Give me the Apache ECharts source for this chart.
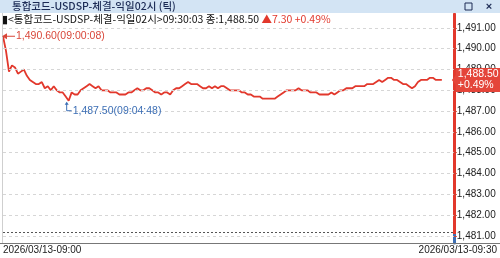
<!DOCTYPE html>
<html><head><meta charset="utf-8">
<script src="https://cdn.jsdelivr.net/npm/echarts@6/dist/echarts.min.js"></script>
<style>html,body{margin:0;padding:0;background:#fff}#c{width:500px;height:258px}</style>
</head><body><div id="c"></div>
<script>
const titleText = '통합코드-USDSP-체결-익일02시 (틱)';
const infoText = '▮<통합코드-USDSP-체결-익일02시>09:30:03 종:1,488.50 ';
const changeText = '▲7.30 +0.49%';
const lastPrice = 1488.5;
const changePct = '+0.49%';
const prevClose = 1481.2;
const highPoint = {index: 0, value: 1490.6, label: '1,490.60(09:00:08)'};
const lowPoint = {index: 22, value: 1487.5, label: '1,487.50(09:04:48)'};
const yTicks = [1481, 1482, 1483, 1484, 1485, 1486, 1487, 1488, 1489, 1490, 1491];
const xTickLabels = ['2026/03/13-09:00', '2026/03/13-09:30'];
const prices = [
1490.6, 1489.9, 1488.9, 1489.2, 1489.1, 1488.8, 1488.9, 1489.0, 1488.7, 1488.5,
1488.4, 1488.3, 1488.3, 1488.4, 1488.1, 1488.2, 1488.0, 1488.2, 1488.0, 1487.9,
1487.9, 1487.7, 1487.5, 1487.9, 1487.8, 1487.8, 1488.0, 1488.1, 1488.2, 1488.3,
1488.2, 1488.1, 1488.2, 1488.0, 1488.0, 1488.0, 1487.9, 1487.9, 1487.9, 1487.8,
1487.8, 1487.8, 1487.9, 1487.9, 1488.0, 1488.1, 1488.0, 1488.0, 1488.1, 1488.1,
1488.0, 1487.9, 1487.9, 1487.8, 1487.9, 1487.9, 1487.8, 1488.0, 1488.1, 1488.1,
1488.2, 1488.3, 1488.4, 1488.3, 1488.3, 1488.3, 1488.2, 1488.1, 1488.1, 1488.2,
1488.1, 1488.2, 1488.1, 1488.2, 1488.2, 1488.1, 1488.0, 1488.0, 1488.0, 1488.0,
1487.9, 1487.9, 1487.8, 1487.8, 1487.7, 1487.7, 1487.7, 1487.6, 1487.6, 1487.6,
1487.6, 1487.6, 1487.7, 1487.8, 1487.9, 1488.0, 1488.0, 1488.0, 1488.0, 1488.1,
1488.0, 1488.0, 1488.0, 1487.9, 1487.9, 1487.9, 1487.8, 1487.8, 1487.8, 1487.8,
1487.9, 1487.8, 1487.9, 1488.0, 1488.0, 1488.1, 1488.1, 1488.1, 1488.2, 1488.2,
1488.2, 1488.2, 1488.3, 1488.3, 1488.3, 1488.4, 1488.5, 1488.4, 1488.5, 1488.6,
1488.6, 1488.5, 1488.5, 1488.4, 1488.3, 1488.3, 1488.2, 1488.1, 1488.2, 1488.4,
1488.5, 1488.5, 1488.5, 1488.6, 1488.6, 1488.5, 1488.5, 1488.5
];

const X_MAX = 151;
const Y_MIN = 1480.66, Y_MAX = 1491.67;
const RED = '#e2382c', BLUE = '#3d6fb5';
const fmt = v => v.toLocaleString('en-US', {minimumFractionDigits: 2, maximumFractionDigits: 2});
const redFrac = (Y_MAX - prevClose) / (Y_MAX - Y_MIN);

const chart = echarts.init(document.getElementById('c'), null, {renderer: 'canvas'});
chart.setOption({
  animation: false,
  grid: {left: 3, right: 45, top: 14, bottom: 15},
  xAxis: {
    type: 'value', min: 0, max: X_MAX,
    axisLine: {show: false, onZero: false}, axisTick: {show: false}, splitLine: {show: false},
    axisLabel: {
      customValues: [0, X_MAX],
      formatter: (v) => v === 0 ? '{l|' + xTickLabels[0] + '}' : '{r|' + xTickLabels[1] + '}',
      alignMinLabel: 'left', alignMaxLabel: 'center',
      margin: 2, fontSize: 10, color: '#222', fontFamily: 'Liberation Sans',
      rich: {l: {fontSize: 10, color: '#222', fontFamily: 'Liberation Sans'},
             r: {fontSize: 10, color: '#222', fontFamily: 'Liberation Sans', padding: [0, 0, 0, 8]}}
    }
  },
  yAxis: {
    type: 'value', position: 'right', min: Y_MIN, max: Y_MAX,
    axisLine: {show: true, onZero: false, lineStyle: {width: 3, color: new echarts.graphic.LinearGradient(0, 0, 0, 1, [
      {offset: 0, color: RED}, {offset: redFrac, color: RED}, {offset: redFrac, color: BLUE}, {offset: 1, color: BLUE}
    ])}},
    axisTick: {show: true, customValues: yTicks, length: 3, lineStyle: {color: '#cc4433'}},
    splitLine: {show: false},
    axisLabel: {customValues: yTicks, formatter: fmt, margin: 3, fontSize: 10, color: '#222', fontFamily: 'Liberation Sans'}
  },
  series: [
    {
      type: 'line', data: prices.map((p, i) => [i, p]), symbol: 'none', silent: true, z: 1,
      lineStyle: {opacity: 0},
      markLine: {
        silent: true, symbol: 'none', animation: false,
        label: {show: false},
        data: yTicks.map(v => ({yAxis: v, lineStyle: {color: '#d6d6d6', type: [3, 3], width: 1}}))
          .concat([{yAxis: prevClose, lineStyle: {color: '#555', type: [2, 2], width: 1}}])
      }
    },
    {
      type: 'line', data: prices.map((p, i) => [i, p]), symbol: 'none', z: 3,
      lineStyle: {color: RED, width: 1.8},
      markLine: {
        silent: true, symbol: 'none', animation: false, z: 20,
        data: [{yAxis: lastPrice}],
        lineStyle: {color: 'rgba(0,0,0,0)', width: 1, type: 'solid'},
        label: {
          show: true, position: 'end', distance: 2,
          formatter: () => fmt(lastPrice) + '\n' + changePct,
          backgroundColor: '#e4453a', color: '#fff', fontSize: 10.5, lineHeight: 11,
          padding: [1, 2, 1, 2], fontFamily: 'Liberation Sans', align: 'left'
        }
      }
    }
  ]
});

const hp = chart.convertToPixel({seriesIndex: 1}, [highPoint.index, highPoint.value]);
const lp = chart.convertToPixel({seriesIndex: 1}, [lowPoint.index, lowPoint.value]);
const tp = chart.convertToPixel({seriesIndex: 1}, [X_MAX, lastPrice]);
const kr = '"Noto Sans CJK KR", sans-serif';
chart.setOption({
  graphic: [
    {type: 'rect', shape: {x: 0, y: 0, width: 500, height: 13}, style: {fill: '#d3e4f4'}, z: 100},
    {type: 'text', x: 12, y: 6.5, style: {text: titleText, font: '500 10.5px ' + kr, fill: '#1c2b55', verticalAlign: 'middle'}, z: 101},
    {type: 'rect', shape: {x: 465, y: 3, width: 7, height: 7}, style: {fill: 'none', stroke: '#1c2b55', lineWidth: 1}, z: 101},
    {type: 'text', x: 489, y: 6.5, style: {text: '×', font: 'bold 11px Liberation Sans', fill: '#1c2b55', verticalAlign: 'middle', align: 'center'}, z: 101},
    {type: 'text', x: 2, y: 19, style: {
      text: '{a|' + infoText + '}{b|' + changeText + '}', verticalAlign: 'middle',
      rich: {a: {font: '10.5px ' + kr, fill: '#111'}, b: {font: '10.5px ' + kr, fill: RED}}
    }, z: 101},
    {type: 'line', shape: {x1: hp[0] + 1, y1: hp[1], x2: hp[0] + 12, y2: hp[1]}, style: {stroke: '#d9473a', lineWidth: 1}, z: 50},
    {type: 'polygon', shape: {points: [[hp[0] - 1, hp[1]], [hp[0] + 4, hp[1] - 3], [hp[0] + 4, hp[1] + 3]]}, style: {fill: '#d9473a'}, z: 50},
    {type: 'text', x: hp[0] + 13, y: hp[1], style: {text: highPoint.label, font: '10.5px Liberation Sans', fill: '#d9473a', verticalAlign: 'middle'}, z: 50},
    {type: 'polyline', shape: {points: [[lp[0] - 2, lp[1] + 2], [lp[0] - 2, lp[1] + 10], [lp[0] + 3, lp[1] + 10]]}, style: {stroke: BLUE, lineWidth: 1, fill: null}, z: 50},
    {type: 'polygon', shape: {points: [[lp[0] - 2, lp[1] + 1], [lp[0] - 4, lp[1] + 4], [lp[0], lp[1] + 4]]}, style: {fill: BLUE}, z: 50},
    {type: 'text', x: lp[0] + 4, y: lp[1] + 10, style: {text: lowPoint.label, font: '10.5px Liberation Sans', fill: BLUE, verticalAlign: 'middle'}, z: 50},
    {type: 'polygon', shape: {points: [[tp[0] - 2, tp[1]], [tp[0] + 3, tp[1] - 6], [tp[0] + 3, tp[1] + 6]]}, style: {fill: '#e4453a'}, z: 60},
    {type: 'line', shape: {x1: 0, y1: 243.5, x2: 500, y2: 243.5}, style: {stroke: '#777', lineWidth: 1}, z: 40},
    {type: 'line', shape: {x1: 2.5, y1: 13, x2: 2.5, y2: 243}, style: {stroke: '#cfcfcf', lineWidth: 1}, z: 40}
  ]
});
</script></body></html>
